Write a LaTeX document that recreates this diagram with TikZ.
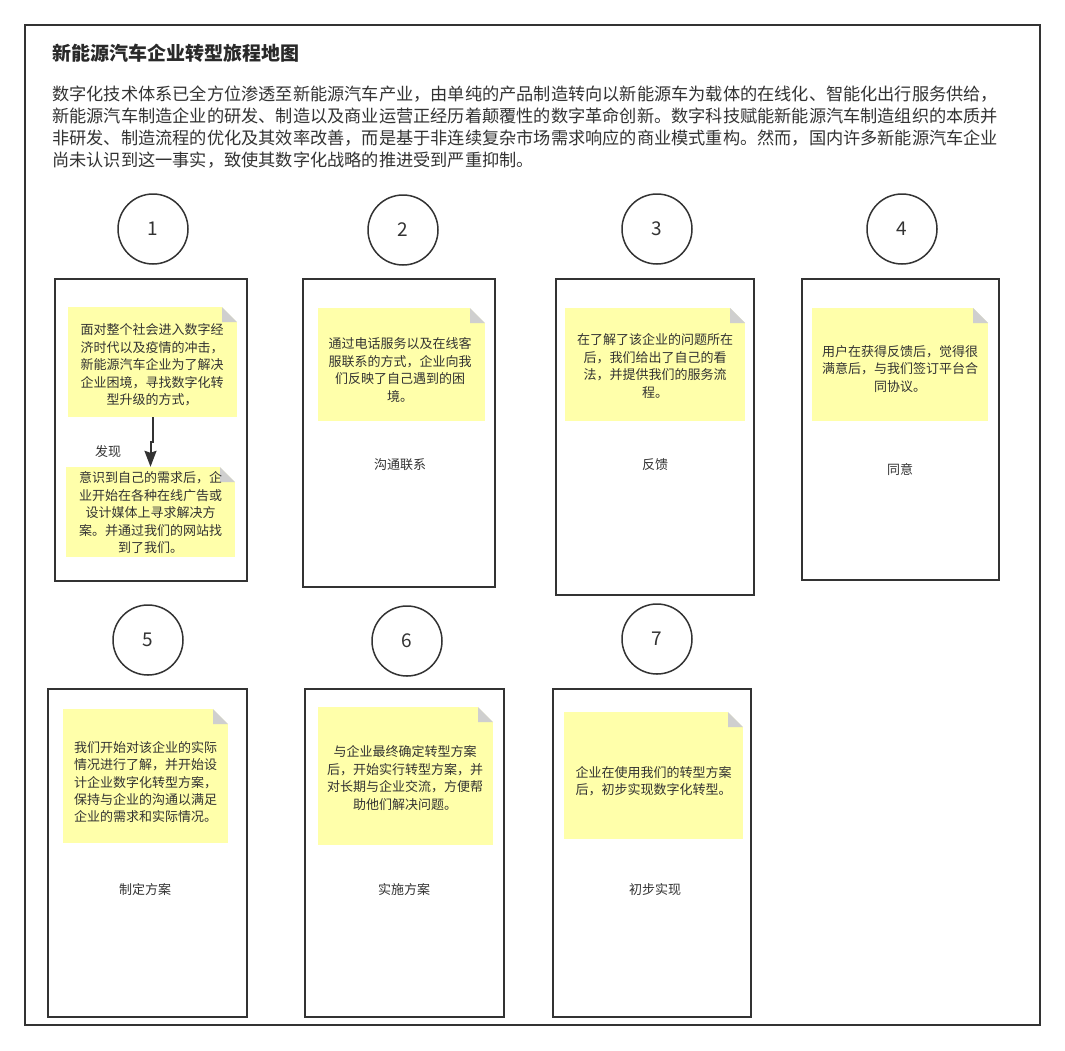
\documentclass[tikz,border=0pt]{standalone}
\usepackage{fontspec}
\newfontfamily\cjk{Noto Sans CJK SC}
\usetikzlibrary{arrows.meta}
\definecolor{ink}{HTML}{333333}
\definecolor{notefill}{HTML}{FFFFAA}
\definecolor{foldgray}{HTML}{CFCFCF}
\begin{document}
\begin{tikzpicture}[x=1pt,y=-1pt,
  frame/.style={draw=ink,line width=1.5pt},
  card/.style={draw=ink,line width=1.5pt,fill=white,inner sep=0},
  badge/.style={circle,draw=ink,line width=1.5pt,minimum size=70pt,inner sep=0,
    text=ink,font=\cjk\fontsize{19}{19}\selectfont},
  note/.style={fill=notefill,inner sep=0,
    path picture={
      \fill[white] ([xshift=-15pt]path picture bounding box.north east)
        -- (path picture bounding box.north east)
        -- ([yshift=-15pt]path picture bounding box.north east) -- cycle;
      \fill[foldgray] ([xshift=-15pt]path picture bounding box.north east)
        -- ([xshift=-15pt,yshift=-15pt]path picture bounding box.north east)
        -- ([yshift=-15pt]path picture bounding box.north east) -- cycle;}},
  notetext/.style={align=center,inner sep=0,text=ink,font=\cjk\fontsize{13}{17.5}\selectfont},
  caption/.style={inner sep=0,text=ink,font=\cjk\fontsize{13}{13}\selectfont},
  para/.style={anchor=base west,inner sep=0,text=ink,font=\cjk\fontsize{17.2}{22}\selectfont},
  flow/.style={draw=ink,line width=2pt,-{Stealth[length=16pt,width=12pt,inset=2pt]}}
]
\useasboundingbox (0,0) rectangle (1065,1050);
\fill[white] (0,0) rectangle (1065,1050);

% outer frame
\draw[frame] (25,25) rectangle (1040,1025);

% heading and introduction
\node[anchor=base west,inner sep=0,text=ink!80!black,font=\cjk\bfseries\fontsize{19}{19}\selectfont] (title) at (52,60) {新能源汽车企业转型旅程地图};
\node[para] (p1) at (52,100.5) {数字化技术体系已全方位渗透至新能源汽车产业，由单纯的产品制造转向以新能源车为载体的在线化、智能化出行服务供给，};
\node[para] (p2) at (52,122.5) {新能源汽车制造企业的研发、制造以及商业运营正经历着颠覆性的数字革命创新。数字科技赋能新能源汽车制造组织的本质并};
\node[para] (p3) at (52,144.5) {非研发、制造流程的优化及其效率改善，而是基于非连续复杂市场需求响应的商业模式重构。然而，国内许多新能源汽车企业};
\node[para] (p4) at (52,166.5) {尚未认识到这一事实，致使其数字化战略的推进受到严重抑制。};

% step badges
\node[badge] (b1) at (153,229) {1};
\node[badge] (b2) at (403,230) {2};
\node[badge] (b3) at (657,229) {3};
\node[badge] (b4) at (902,229) {4};
\node[badge] (b5) at (148,640) {5};
\node[badge] (b6) at (407,641) {6};
\node[badge] (b7) at (657,639) {7};

% stage cards
\node[card,minimum width=192pt,minimum height=302pt] (c1) at (151,430) {};
\node[card,minimum width=192pt,minimum height=308pt] (c2) at (399,433) {};
\node[card,minimum width=198pt,minimum height=316pt] (c3) at (655,437) {};
\node[card,minimum width=197pt,minimum height=301pt] (c4) at (900.5,429.5) {};
\node[card,minimum width=199pt,minimum height=328pt] (c5) at (147.5,853) {};
\node[card,minimum width=199pt,minimum height=328pt] (c6) at (404.5,853) {};
\node[card,minimum width=198pt,minimum height=328pt] (c7) at (652,853) {};

% sticky notes
\node[note,minimum width=169pt,minimum height=110pt] (n1) at (152.5,362) {};
\node[note,minimum width=169pt,minimum height=90pt] (n1b) at (150.5,512) {};
\node[note,minimum width=167pt,minimum height=113pt] (n2) at (401.5,364.5) {};
\node[note,minimum width=180pt,minimum height=113pt] (n3) at (655,364.5) {};
\node[note,minimum width=176pt,minimum height=113pt] (n4) at (900,364.5) {};
\node[note,minimum width=165pt,minimum height=134pt] (n5) at (145.5,776) {};
\node[note,minimum width=175pt,minimum height=138pt] (n6) at (405.5,776) {};
\node[note,minimum width=179pt,minimum height=127pt] (n7) at (653.5,775.5) {};

\node[notetext] (t1) at (152,365) {面对整个社会进入数字经\\济时代以及疫情的冲击，\\新能源汽车企业为了解决\\企业困境，寻找数字化转\\型升级的方式，};
\node[notetext] (t1b) at (150.5,513) {意识到自己的需求后，企\\业开始在各种在线广告或\\设计媒体上寻求解决方\\案。并通过我们的网站找\\到了我们。};
\node[notetext] (t2) at (400,370) {通过电话服务以及在线客\\服联系的方式，企业向我\\们反映了自己遇到的困\\境。};
\node[notetext] (t3) at (655,366) {在了解了该企业的问题所在\\后，我们给出了自己的看\\法，并提供我们的服务流\\程。};
\node[notetext] (t4) at (900,369) {用户在获得反馈后，觉得很\\满意后，与我们签订平台合\\同协议。};
\node[notetext] (t5) at (145.5,782) {我们开始对该企业的实际\\情况进行了解，并开始设\\计企业数字化转型方案，\\保持与企业的沟通以满足\\企业的需求和实际情况。};
\node[notetext] (t6) at (405,778) {与企业最终确定转型方案\\后，开始实行转型方案，并\\对长期与企业交流，方便帮\\助他们解决问题。};
\node[notetext] (t7) at (653.5,781) {企业在使用我们的转型方案\\后，初步实现数字化转型。};

% link between the two notes of stage 1
\draw[flow] (n1.south) -- ++(0,25) -| (n1b.north);
\node[caption] (found) at (108,452) {发现};

% stage captions
\node[caption] (s2) at (400,465) {沟通联系};
\node[caption] (s3) at (655,465) {反馈};
\node[caption] (s4) at (900,470) {同意};
\node[caption] (s5) at (145,890) {制定方案};
\node[caption] (s6) at (404,890) {实施方案};
\node[caption] (s7) at (655,890) {初步实现};
\end{tikzpicture}
\end{document}
